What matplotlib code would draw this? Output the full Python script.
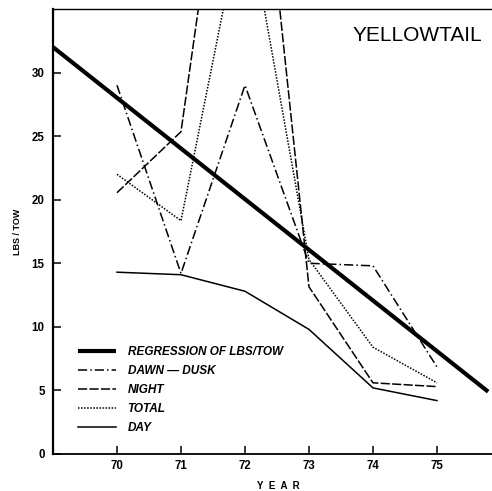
import matplotlib
matplotlib.use("Agg")
import matplotlib.pyplot as plt

plt.rcParams['font.family'] = ['Liberation Sans', 'DejaVu Sans']

# Catch per tow by year
years = [70, 71, 72, 73, 74, 75]
dawn_dusk = [29.0, 14.2, 29.0, 15.0, 14.8, 6.85]
night = [20.55, 25.35, 61.0, 13.15, 5.6, 5.3]
total = [22.0, 18.35, 43.5, 15.3, 8.4, 5.6]
day = [14.3, 14.1, 12.8, 9.8, 5.2, 4.2]

# Fitted regression line endpoints
reg_years = [69.0, 75.8]
reg_values = [32.0, 4.9]

y_ticks = [0, 5, 10, 15, 20, 25, 30]
x_ticks = years

fig = plt.figure(figsize=(4.92, 4.91), dpi=100)
ax = fig.add_axes([53 / 492, 37 / 491, 1 - 53 / 492, (454 - 9) / 491])

ax.plot(reg_years, reg_values, color='black', lw=3.0, solid_capstyle='butt',
        label='REGRESSION OF LBS/TOW')
ax.plot(years, dawn_dusk, color='black', lw=1.1, linestyle=(0, (6, 2, 1, 2)),
        label='DAWN \u2014 DUSK')
ax.plot(years, night, color='black', lw=1.1, linestyle=(0, (6, 1.5)),
        label='NIGHT')
ax.plot(years, total, color='black', lw=1.1, linestyle=(0, (1, 1)),
        label='TOTAL')
ax.plot(years, day, color='black', lw=1.1, linestyle='-', label='DAY')

ax.set_xlim(69.0, 75.86)
ax.set_ylim(0, 35.0)
ax.set_xticks(x_ticks)
ax.set_yticks(y_ticks)
ax.set_xticklabels([str(v) for v in x_ticks], fontsize=8.3, fontweight='bold')
ax.set_yticklabels([str(v) for v in y_ticks], fontsize=8.3, fontweight='bold')
ax.tick_params(axis='both', direction='in', length=6, width=1.1)
ax.tick_params(axis='y', pad=6)
ax.tick_params(axis='x', pad=4)

ax.spines['right'].set_visible(False)
ax.spines['left'].set_linewidth(1.6)
ax.spines['bottom'].set_linewidth(1.3)
ax.spines['top'].set_linewidth(1.0)

ax.set_ylabel('LBS / TOW', fontsize=6.5, fontweight='bold', labelpad=7)
ax.text(0.513, -0.073, 'Y  E  A  R', transform=ax.transAxes, ha='center',
        va='center', fontsize=7, fontweight='bold')

ax.text(0.977, 0.940, 'YELLOWTAIL', transform=ax.transAxes, ha='right',
        va='center', fontsize=15)

leg = ax.legend(loc='lower left', bbox_to_anchor=(0.057, 0.045), frameon=False,
                borderpad=0, borderaxespad=0, handlelength=3.2,
                handletextpad=1.0, labelspacing=0.6,
                prop={'size': 8.5, 'style': 'italic', 'weight': 'bold'})

fig.savefig('out.png', dpi=100)
